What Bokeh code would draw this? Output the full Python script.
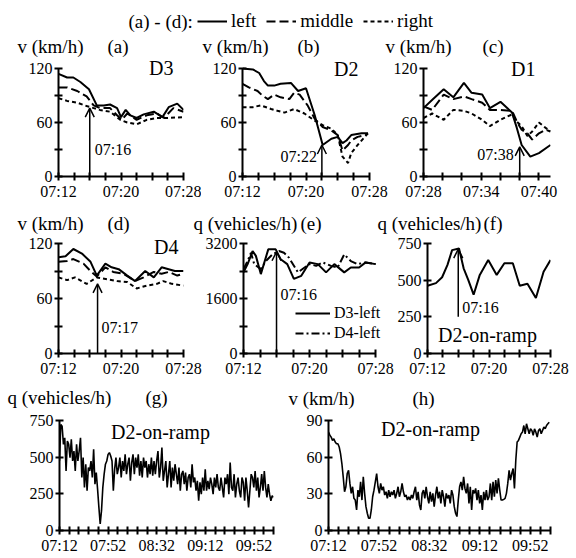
import numpy as np
from bokeh.plotting import figure
from bokeh.layouts import column, row
from bokeh.models import Range1d, FixedTicker, Label, Arrow, OpenHead, Legend, LegendItem
from bokeh.embed import file_html
from bokeh.resources import INLINE

FONT = "Liberation Serif, DejaVu Serif, serif"
MID_DASH = "9 4"
RIGHT_DASH = "4 3"
D4_DASH = "8 3 2 3"

# ---------------- data (minutes after 07:00 unless noted) ----------------
# (a) D3 speeds, km/h
a_left_t = [12.0, 13.1, 13.9, 14.8, 15.9, 16.9, 17.8, 18.6, 19.5, 20.0, 20.6, 21.2, 22.0, 22.9, 24.2, 25.3, 26.1, 27.2, 28.0]
a_left_v = [114, 110, 110, 105, 97, 79, 79, 80, 76, 66, 74, 68, 65, 69, 72, 66, 77, 81, 74]
a_mid_t = [12.0, 13.1, 14.4, 15.6, 16.5, 17.3, 18.6, 19.5, 20.1, 20.8, 22.0, 23.3, 24.6, 25.5, 26.7, 28.0]
a_mid_v = [99, 99, 95, 89, 79, 76, 76, 68, 63, 70, 63, 68, 70, 65, 76, 72]
a_right_t = [12.0, 13.1, 14.4, 15.7, 16.5, 17.3, 18.6, 19.9, 20.8, 22.0, 23.3, 24.6, 25.9, 28.0]
a_right_v = [87, 84, 82, 78, 76, 74, 72, 63, 60, 58, 63, 65, 65, 66]

# (b) D2
b_left_t = [12.0, 13.3, 14.1, 14.7, 15.2, 16.0, 16.8, 18.1, 19.0, 20.0, 21.1, 22.1, 23.2, 24.0, 24.6, 25.1, 25.7, 27.0, 27.8]
b_left_v = [120, 119, 115, 106, 101, 101, 103, 104, 95, 98, 68, 35, 42, 44, 37, 40, 46, 48, 48]
b_mid_t = [12.0, 12.8, 13.9, 14.5, 15.2, 16.0, 16.8, 17.9, 18.5, 19.2, 20.2, 21.1, 22.1, 23.2, 24.0, 24.6, 25.3, 25.7, 26.5, 27.4, 27.8]
b_mid_v = [103, 99, 95, 90, 86, 91, 88, 86, 93, 91, 79, 64, 55, 51, 46, 29, 35, 40, 44, 46, 48]
b_right_t = [12.0, 13.3, 14.3, 15.6, 16.4, 17.3, 18.5, 19.8, 21.1, 22.1, 23.2, 24.0, 24.6, 25.3, 25.7, 26.5, 27.4, 27.8]
b_right_v = [77, 77, 79, 75, 73, 71, 75, 70, 62, 57, 53, 46, 22, 15, 26, 35, 44, 48]

# (c) D1
c_left_t = [28.0, 29.0, 30.1, 31.1, 32.2, 33.0, 34.1, 34.9, 36.0, 37.2, 37.7, 38.2, 39.1, 40.0, 41.2]
c_left_v = [76, 86, 97, 88, 104, 93, 91, 76, 83, 71, 54, 35, 22, 26, 35]
c_mid_t = [28.0, 28.9, 30.1, 31.1, 32.2, 33.0, 34.1, 34.9, 36.0, 37.2, 37.7, 38.2, 38.8, 39.3, 40.0, 40.7, 41.2]
c_mid_v = [78, 74, 91, 86, 89, 86, 82, 74, 74, 73, 61, 52, 48, 41, 48, 52, 50]
c_right_t = [28.0, 28.9, 30.1, 31.1, 32.2, 33.0, 34.1, 34.9, 36.0, 37.2, 37.7, 38.2, 38.8, 39.3, 40.0, 40.7, 41.2]
c_right_v = [65, 70, 63, 74, 73, 70, 63, 56, 63, 69, 61, 56, 45, 50, 60, 54, 50]

# (d) D4
d_left_t = [12.0, 12.9, 13.9, 15.0, 16.1, 16.9, 18.0, 18.8, 19.7, 20.8, 21.8, 23.1, 24.2, 25.2, 26.1, 26.9, 28.0]
d_left_v = [105, 106, 114, 109, 100, 85, 98, 94, 92, 85, 79, 90, 83, 94, 92, 90, 90]
d_mid_t = [12.0, 13.1, 13.9, 15.2, 16.1, 16.9, 18.0, 19.0, 20.3, 21.8, 22.9, 24.2, 25.2, 26.1, 27.2, 28.0]
d_mid_v = [100, 101, 103, 98, 90, 84, 94, 89, 87, 79, 83, 89, 87, 89, 85, 87]
d_right_t = [12.0, 13.1, 14.1, 15.6, 16.9, 18.2, 19.5, 20.8, 22.0, 23.3, 24.6, 25.4, 26.5, 28.0]
d_right_v = [83, 80, 83, 76, 83, 81, 79, 78, 71, 74, 76, 79, 76, 74]

# (e) flow, vehicles/h
e_d3_t = [12.0, 12.5, 13.1, 13.5, 14.1, 15.0, 15.9, 16.5, 17.3, 18.1, 19.0, 20.0, 21.0, 22.0, 23.0, 24.2, 25.0, 26.0, 26.8, 28.0]
e_d3_q = [2360, 2600, 2980, 2840, 2310, 3030, 3030, 2740, 2600, 2170, 2260, 2650, 2600, 2360, 2600, 2360, 2500, 2500, 2650, 2600]
e_d4_t = [12.0, 12.5, 12.9, 13.3, 14.1, 14.7, 15.5, 16.3, 16.9, 17.5, 18.6, 19.4, 20.0, 20.8, 21.6, 22.6, 23.4, 24.2, 25.0, 25.8, 26.8, 28.0]
e_d4_q = [2455, 2690, 2930, 2600, 2455, 2690, 2880, 2980, 2930, 2790, 2360, 2500, 2600, 2550, 2650, 2550, 2500, 2880, 2690, 2600, 2650, 2600]

# (f) D2 on-ramp flow
f_t = [12.0, 13.1, 13.9, 14.6, 15.2, 16.1, 16.7, 17.3, 18.0, 18.8, 19.9, 21.0, 22.0, 23.1, 24.0, 25.0, 26.1, 27.1, 28.0]
f_q = [462, 480, 520, 604, 705, 716, 581, 502, 401, 536, 637, 536, 615, 615, 462, 475, 378, 558, 637]

# (g) D2 on-ramp flow, long period (minutes after 07:12)
g_q = [475, 723, 711, 587, 632, 406, 610, 587, 497, 621,
       474, 542, 406, 587, 474, 542, 632, 361, 497, 294,
       452, 271, 429, 406, 474, 361, 553, 316, 395, 282,
       158, 45, 135, 294, 384, 452, 474, 519, 531, 508,
       474, 271, 418, 497, 384, 429, 497, 361, 474, 406,
       519, 384, 452, 497, 339, 463, 519, 384, 497, 429,
       519, 373, 474, 361, 497, 429, 474, 361, 452, 384,
       497, 373, 474, 384, 474, 542, 361, 429, 565, 339,
       406, 474, 294, 384, 474, 294, 429, 339, 452, 384,
       316, 429, 271, 384, 406, 316, 395, 271, 361, 384,
       294, 452, 328, 361, 271, 339, 203, 328, 248, 361,
       271, 418, 271, 339, 282, 361, 316, 248, 361, 294,
       384, 294, 271, 361, 294, 226, 361, 316, 384, 248,
       463, 294, 271, 384, 226, 316, 361, 271, 226, 361,
       328, 203, 361, 271, 158, 271, 384, 361, 294, 406,
       271, 361, 226, 294, 384, 271, 406, 294, 226, 316,
       248, 203, 237, 226]
g_t = np.linspace(0, 176, len(g_q))

# (h) D2 on-ramp speed, long period
h_v = [80.5, 78, 76.4, 73.7, 75, 72.4, 71, 71, 68.3, 62.9, 54.8, 43.9, 31.7, 35.8, 46.6, 49.3, 38.5, 30.4, 35.8, 26.3,
       24.9, 16.8, 33, 27.6, 39.8, 24.9, 43.9, 30.4, 19.5, 14.1, 10, 10, 16.8, 27.6, 33, 39.8, 46.6, 35.8, 30.4, 38.5,
       33, 35.8, 29, 31.7, 26.3, 33, 27.6, 31.7, 29, 33, 26.3, 30.4, 35.8, 27.6, 31.7, 38.5, 31.7, 27.6, 29, 24.9,
       27.6, 24.9, 29, 26.3, 31.7, 35.8, 24.9, 31.7, 20.9, 16.8, 30.4, 33, 26.3, 35.8, 27.6, 22.2, 31.7, 23.6, 30.4, 19.5,
       29, 35.8, 26.3, 31.7, 22.2, 33, 27.6, 19.5, 30.4, 26.3, 29, 22.2, 33, 29, 19.5, 14.1, 11.4, 24.9, 35.8, 39.8,
       33, 43.9, 34.4, 30.4, 38.5, 22.2, 35.8, 16.8, 33, 30.4, 34.4, 24.9, 33, 22.2, 29, 16.8, 31.7, 24.9, 33, 24.9,
       27.6, 38.5, 24.9, 39.8, 27.6, 41.2, 30.4, 42.6, 33, 24.9, 24.9, 25.5, 26.3, 30.4, 38.5, 49.3, 41.2, 46.6, 50.7, 34.4,
       57.5, 72.4, 73.7, 76.4, 79.1, 80.5, 85.9, 79.1, 87.3, 83.2, 79.1, 83.2, 81.9, 77.8, 83.2, 80.5, 76.4, 81.9, 83.2, 79.1,
       81.9, 84.6, 83.2, 85.9, 87.3, 88.6]
h_t = np.linspace(0, 175, len(h_v))

# ticks
xt_short = [12, 14, 16, 18, 20, 22, 24, 26, 28]
xl_short = {12: "07:12", 20: "07:20", 28: "07:28"}
xt_c = [28, 30, 32, 34, 36, 38, 40]
xl_c = {28: "07:28", 34: "07:34", 40: "07:40"}
xt_long = list(range(0, 177, 8))
xl_long = {0: "07:12", 40: "07:52", 80: "08:32", 120: "09:12", 160: "09:52"}
yt_v = [0, 30, 60, 90, 120]
yl_v = {0: "0", 60: "60", 120: "120"}
yt_e = [0, 800, 1600, 2400, 3200]
yl_e = {0: "0", 1600: "1600", 3200: "3200"}
yt_q = [0, 250, 500, 750]
yl_q = {0: "0", 250: "250", 500: "500", 750: "750"}
yt_h = [0, 30, 60, 90]
yl_h = {0: "0", 30: "30", 60: "60", 90: "90"}


def panel(w, h, bl, br, bb, xr, xb, yb, frame_h, axis_h, xt, xl, yt, yl, frame_w=None, axis_w=None):
    """yb: (0, top) axis bounds; the frame is taller than the axis (axis_h px) so
    texts near the top are not clipped; the range is extended accordingly."""
    y_end = yb[1] * frame_h / axis_h
    x_end = xr[1]
    if frame_w is not None:
        x_end = xr[0] + (xr[1] - xr[0]) * frame_w / axis_w
    p = figure(width=w, height=h, x_range=Range1d(xr[0], x_end), y_range=Range1d(0, y_end),
               output_backend="svg", toolbar_location=None,
               min_border_left=bl, min_border_right=br, min_border_top=0, min_border_bottom=bb)
    p.outline_line_color = None
    p.xgrid.visible = False
    p.ygrid.visible = False
    p.xaxis[0].bounds = xb
    p.yaxis[0].bounds = yb
    for ax, ticks, labels in ((p.xaxis[0], xt, xl), (p.yaxis[0], yt, yl)):
        ax.ticker = FixedTicker(ticks=ticks)
        ax.major_label_overrides = {t: labels.get(t, "") for t in ticks}
        ax.axis_line_width = 2
        ax.axis_line_color = "black"
        ax.major_tick_line_width = 2
        ax.major_tick_line_color = "black"
        ax.major_tick_in = 4
        ax.major_tick_out = 4
        ax.minor_tick_line_color = None
        ax.major_label_text_font = FONT
        ax.major_label_text_font_size = "16px"
        ax.major_label_text_color = "black"
        ax.major_label_standoff = 2
    return p


def lbl(p, x, y, text, size="19px", xo=0, yo=0, align="left"):
    p.add_layout(Label(x=x, y=y, x_offset=xo, y_offset=yo, text=text, text_font=FONT,
                       text_font_size=size, text_align=align, text_baseline="middle",
                       text_color="black"))


def arrow(p, x, y0, y1):
    p.add_layout(Arrow(end=OpenHead(size=9, line_width=1.5, line_color="black"),
                       x_start=x, y_start=y0, x_end=x, y_end=y1,
                       line_width=1.5, line_color="black"))


def three(p, lt, lv, mt, mv, rt, rv):
    p.line(lt, lv, line_color="black", line_width=2)
    p.line(mt, mv, line_color="black", line_width=2, line_dash=MID_DASH)
    p.line(rt, rv, line_color="black", line_width=2, line_dash=RIGHT_DASH)


def strip(h):
    s = figure(width=576, height=h, x_range=Range1d(0, 576), y_range=Range1d(h, 0),
               x_axis_location=None, y_axis_location=None, toolbar_location=None,
               output_backend="svg", min_border=0)
    s.xgrid.visible = False
    s.ygrid.visible = False
    s.outline_line_color = None
    return s


# ---------------- header + row 1 titles ----------------
s0 = strip(58)
r_l = s0.line([np.nan], [np.nan], line_color="black", line_width=2)
r_m = s0.line([np.nan], [np.nan], line_color="black", line_width=2, line_dash=MID_DASH)
r_r = s0.line([np.nan], [np.nan], line_color="black", line_width=2, line_dash=RIGHT_DASH)
hdr = Legend(items=[LegendItem(label="left", renderers=[r_l]),
                    LegendItem(label="middle", renderers=[r_m]),
                    LegendItem(label="right", renderers=[r_r])],
             location=(197, 26), orientation="horizontal", padding=0, margin=0, spacing=10,
             glyph_width=30, glyph_height=22, label_height=22, label_standoff=4,
             border_line_color=None, background_fill_alpha=0,
             label_text_font=FONT, label_text_font_size="19px", label_text_color="black")
s0.add_layout(hdr)
lbl(s0, 128, 21, "(a) - (d):")
lbl(s0, 17, 46, "v (km/h)")
lbl(s0, 107, 46, "(a)")
lbl(s0, 202, 46, "v (km/h)")
lbl(s0, 297, 46, "(b)")
lbl(s0, 385, 46, "v (km/h)")
lbl(s0, 482, 46, "(c)")

# ---------------- row 1 (canvas y 58..205, axis 0 at 176, 120 at 68) ----------------
pa = panel(201, 147, 58, 18, 29, (12, 28), (12, 28), (0, 120), 118, 108, xt_short, xl_short, yt_v, yl_v)
three(pa, a_left_t, a_left_v, a_mid_t, a_mid_v, a_right_t, a_right_v)
arrow(pa, 16, 0, 76)
lbl(pa, 16, 30, "07:16", size="16px", xo=5)
lbl(pa, 12, 120, "D3", size="20px", xo=115, yo=1, align="right")

pb = panel(187, 147, 41, 19, 29, (12, 28), (12, 28), (0, 120), 118, 108, xt_short, xl_short, yt_v, yl_v)
three(pb, b_left_t, b_left_v, b_mid_t, b_mid_v, b_right_t, b_right_v)
arrow(pb, 22, 0, 35)
lbl(pb, 22, 22, "07:22", size="16px", xo=-5, align="right")
lbl(pb, 12, 120, "D2", size="20px", xo=116, yo=0, align="right")

pc = panel(188, 147, 35, 26, 29, (28, 41.2), (28, 41.2), (0, 120), 118, 108, xt_c, xl_c, yt_v, yl_v)
three(pc, c_left_t, c_left_v, c_mid_t, c_mid_v, c_right_t, c_right_v)
arrow(pc, 38, 0, 33)
lbl(pc, 38, 24, "07:38", size="16px", xo=-6, align="right")
lbl(pc, 28, 120, "D1", size="20px", xo=112, yo=0, align="right")

# ---------------- row 2 titles ----------------
s2 = strip(30)
lbl(s2, 17, 18, "v (km/h)")
lbl(s2, 107, 18, "(d)")
lbl(s2, 193, 18, "q (vehicles/h)")
lbl(s2, 300, 18, "(e)")
lbl(s2, 377, 18, "q (vehicles/h)")
lbl(s2, 483, 18, "(f)")

# ---------------- row 2 (canvas y 235..383, axis 0 at 353, top at 243) ----------------
pd_ = panel(202, 148, 58, 19, 30, (12, 28), (12, 28), (0, 120), 118, 110, xt_short, xl_short, yt_v, yl_v)
three(pd_, d_left_t, d_left_v, d_mid_t, d_mid_v, d_right_t, d_right_v)
arrow(pd_, 17, 0, 76)
lbl(pd_, 17, 28, "07:17", size="16px", xo=4)
lbl(pd_, 12, 120, "D4", size="20px", xo=120, yo=-3, align="right")

pe = panel(192, 148, 40, 4, 30, (12, 28), (12, 28), (0, 3200), 118, 110, xt_short, xl_short, yt_e, yl_e,
           frame_w=148, axis_w=133)
re1 = pe.line(e_d3_t, e_d3_q, line_color="black", line_width=2)
re2 = pe.line(e_d4_t, e_d4_q, line_color="black", line_width=2, line_dash=D4_DASH)
arrow(pe, 16, 0, 2960)
lbl(pe, 16, 1720, "07:16", size="16px", xo=4)
leg_e = Legend(items=[LegendItem(label="D3-left", renderers=[re1]),
                      LegendItem(label="D4-left", renderers=[re2])],
               location=(52, 11), orientation="vertical", padding=0, margin=0, spacing=2,
               glyph_width=35, glyph_height=16, label_height=16, label_standoff=4,
               border_line_color=None, background_fill_alpha=0,
               label_text_font=FONT, label_text_font_size="16px", label_text_color="black")
pe.add_layout(leg_e)

pf = panel(182, 148, 31, 26, 30, (12, 28), (12, 28), (0, 750), 118, 110, xt_short, xl_short, yt_q, yl_q)
pf.line(f_t, f_q, line_color="black", line_width=2)
arrow(pf, 16, 250, 712)
lbl(pf, 16, 311, "07:16", size="16px", xo=4)
lbl(pf, 12, 0, "D2-on-ramp", size="20px", xo=60, yo=19, align="center")

# ---------------- row 3 titles ----------------
s3 = strip(28)
lbl(s3, 7, 14, "q (vehicles/h)")
lbl(s3, 145, 14, "(g)")
lbl(s3, 288, 15, "v (km/h)")
lbl(s3, 412, 15, "(h)")

# ---------------- row 3 (canvas y 411..558, axis 0 at 530, top at 420) ----------------
pg = panel(288, 147, 59, 15, 28, (0, 176), (0, 176), (0, 750), 119, 110, xt_long, xl_long, yt_q, yl_q)
pg.line(g_t, g_q, line_color="black", line_width=1.6)
lbl(pg, 0, 750, "D2-on-ramp", size="20px", xo=101, yo=-11, align="center")

ph = panel(288, 147, 40, 26, 28, (0, 176), (0, 176), (0, 90), 119, 110, xt_long, xl_long, yt_h, yl_h)
ph.line(h_t, h_v, line_color="black", line_width=1.6)
lbl(ph, 0, 90, "D2-on-ramp", size="20px", xo=102, yo=-8, align="center")

layout = column(s0, row(pa, pb, pc), s2, row(pd_, pe, pf), s3, row(pg, ph))

open("out.html", "w").write(file_html(layout, INLINE))
